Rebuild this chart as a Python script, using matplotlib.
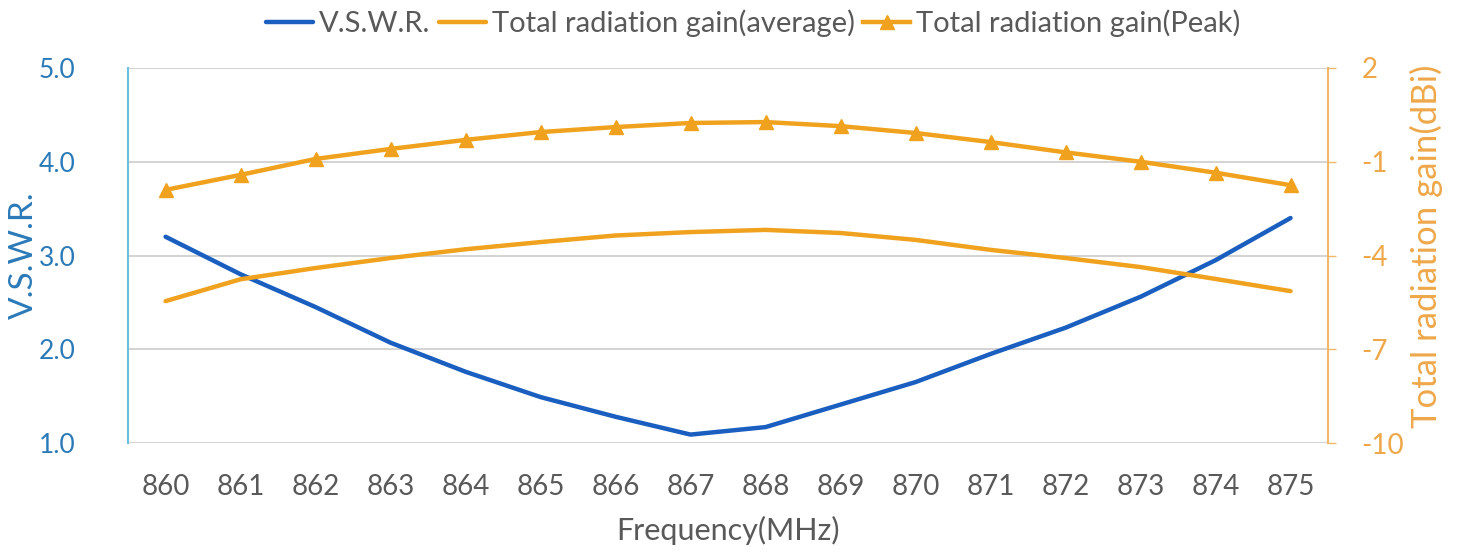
import numpy as np
import matplotlib
matplotlib.use("Agg")
import matplotlib.pyplot as plt

plt.rcParams['font.family'] = ['Lato', 'DejaVu Sans']
plt.rcParams['axes.unicode_minus'] = False

freq = [860, 861, 862, 863, 864, 865, 866, 867, 868, 869, 870, 871, 872, 873, 874, 875]
vswr = [3.20, 2.80, 2.45, 2.07, 1.76, 1.49, 1.28, 1.09, 1.17, 1.41, 1.65, 1.95, 2.23, 2.56, 2.95, 3.40]
gain_avg = [-5.46, -4.76, -4.40, -4.08, -3.80, -3.57, -3.36, -3.25, -3.18, -3.28, -3.50, -3.82, -4.08, -4.37, -4.75, -5.14]
gain_peak = [-1.90, -1.42, -0.91, -0.59, -0.30, -0.05, 0.11, 0.24, 0.27, 0.14, -0.08, -0.37, -0.70, -1.00, -1.35, -1.75]

blue = '#1a5fbf'
orange = '#f0a21e'
blue_txt = '#2b7ab8'
orange_txt = '#eea84a'
gray = '#595959'

fig = plt.figure(figsize=(14.57, 5.56), dpi=100)
ax1 = fig.add_axes([0.0879, 0.2032, 0.8236, 0.6745])
ax2 = ax1.twinx()

x = np.arange(len(freq))
l1, = ax1.plot(x, vswr, color=blue, lw=3.2, solid_capstyle='round', label='V.S.W.R.')
l2, = ax2.plot(x, gain_avg, color=orange, lw=3.2, solid_capstyle='round',
               label='Total radiation gain(average)')
l3, = ax2.plot(x, gain_peak, color=orange, lw=3.2, marker='^', markersize=10,
               label='Total radiation gain(Peak)')

ax1.set_xlim(-0.5, len(freq) - 0.5)
ax1.set_ylim(1.0, 5.0)
ax1.set_yticks([1.0, 2.0, 3.0, 4.0, 5.0])
ax1.set_yticklabels(['1.0', '2.0', '3.0', '4.0', '5.0'])
ax2.set_ylim(-10, 2)
ax2.set_yticks([-10, -7, -4, -1, 2])

ax1.set_xticks(x)
ax1.set_xticklabels([str(f) for f in freq])
ax1.tick_params(axis='x', length=0, pad=22, labelsize=20, labelcolor=gray)
ax1.tick_params(axis='y', length=0, pad=38, labelsize=19, labelcolor=blue_txt)
ax2.tick_params(axis='y', length=6, width=1, color='#f0b868', pad=18,
                labelsize=20, labelcolor=orange_txt)

ax1.grid(axis='y', color='#cccccc', lw=1.2)
ax1.set_axisbelow(True)
for ax in (ax1, ax2):
    for s in ('top', 'bottom'):
        ax.spines[s].set_visible(False)
ax1.spines['right'].set_visible(False)
ax2.spines['left'].set_visible(False)
ax1.spines['left'].set_color('#6cc0dc')
ax1.spines['left'].set_linewidth(1.5)
ax2.spines['right'].set_color('#f0b868')
ax2.spines['right'].set_linewidth(1.5)

ax1.set_ylabel('V.S.W.R.', fontsize=24, color=blue_txt)
ax1.yaxis.set_label_coords(-0.074, 0.50)
ax2.set_ylabel('Total radiation gain(dBi)', fontsize=25, color=orange_txt)
ax2.yaxis.set_label_coords(1.068, 0.525)
ax1.set_xlabel('Frequency(MHz)', fontsize=22, color=gray, labelpad=12)

fig.legend(handles=[l1, l2, l3], loc='center', bbox_to_anchor=(0.517, 0.958), ncol=3,
           frameon=False, fontsize=21, handlelength=1.6, handletextpad=0.2,
           columnspacing=0.3, labelcolor=gray)

fig.savefig('out.png', dpi=100)
